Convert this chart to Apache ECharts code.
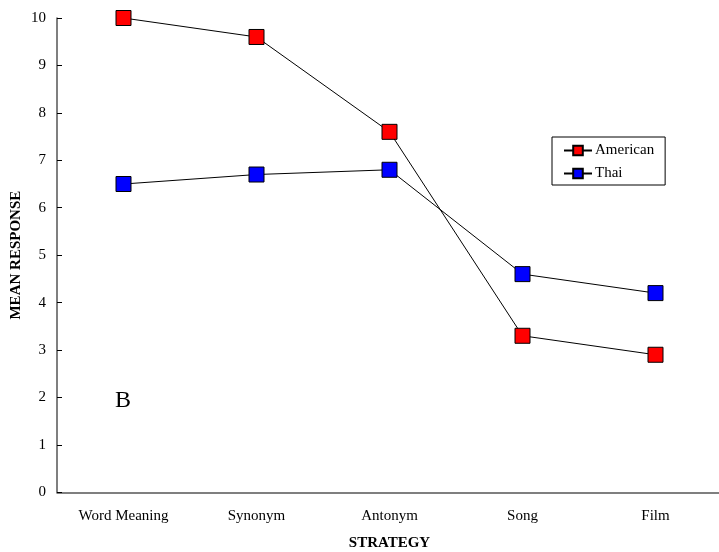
<!DOCTYPE html>
<html><head><meta charset="utf-8">
<script src="https://cdn.jsdelivr.net/npm/echarts@6/dist/echarts.min.js"></script>
<style>html,body{margin:0;padding:0;background:#fff}#c{width:719px;height:552px}</style>
</head><body><div id="c"></div>
<script>
const categories = ['Word Meaning','Synonym','Antonym','Song','Film'];
const american = [10, 9.6, 7.6, 3.3, 2.9];
const thai = [6.5, 6.7, 6.8, 4.6, 4.2];
const yTicks = [0,1,2,3,4,5,6,7,8,9,10];

const font = 'Liberation Serif, Times New Roman, serif';
const chart = echarts.init(document.getElementById('c'));
chart.setOption({
  animation: false,
  textStyle: {fontFamily: font},
  grid: {left: 57, top: 18, width: 665, height: 474.3, containLabel: false, outerBoundsMode: 'none'},
  legend: {
    left: 552, top: 137, orient: 'vertical',
    backgroundColor: '#fff', borderColor: '#000', borderWidth: 1, borderRadius: 0,
    padding: [6, 11, 4, 11], itemGap: 8, itemWidth: 28, itemHeight: 12,
    textStyle: {fontFamily: font, fontSize: 15, color: '#000', padding: [0, 0, 0, -2]},
    data: ['American', 'Thai']
  },
  xAxis: {
    type: 'category', data: categories, boundaryGap: true,
    name: 'STRATEGY', nameLocation: 'middle', nameGap: 43, nameMoveOverlap: false,
    nameTextStyle: {fontFamily: font, fontSize: 15, fontWeight: 'bold', color: '#000'},
    axisLine: {lineStyle: {color: '#555', width: 1.5}},
    axisTick: {inside: true, length: 5, lineStyle: {color: '#000'}},
    axisLabel: {fontFamily: font, fontSize: 15, color: '#000', margin: 16},
    splitLine: {show: false}
  },
  yAxis: {
    type: 'value', min: 0, max: 10, interval: 1,
    name: 'MEAN RESPONSE', nameLocation: 'middle', nameGap: 33, nameRotate: 90, nameMoveOverlap: false,
    nameTextStyle: {fontFamily: font, fontSize: 15, fontWeight: 'bold', color: '#000'},
    axisLine: {show: true, lineStyle: {color: '#555', width: 1.5}},
    axisTick: {show: true, inside: true, length: 5, lineStyle: {color: '#000'}},
    axisLabel: {fontFamily: font, fontSize: 15, color: '#000', margin: 11,
      formatter: v => yTicks.includes(v) ? String(v) : ''},
    splitLine: {show: false}
  },
  graphic: [{type: 'text', left: 115, top: 389, style: {text: 'B', fontFamily: font, fontSize: 24, fill: '#000'}}],
  series: [
    {name: 'American', type: 'line', data: american, symbol: 'rect', symbolSize: 15,
      itemStyle: {color: '#ff0000', borderColor: '#000', borderWidth: 1},
      lineStyle: {color: '#000', width: 1}},
    {name: 'Thai', type: 'line', data: thai, symbol: 'rect', symbolSize: 15,
      itemStyle: {color: '#0000ff', borderColor: '#000', borderWidth: 1},
      lineStyle: {color: '#000', width: 1}}
  ]
});
</script></body></html>
